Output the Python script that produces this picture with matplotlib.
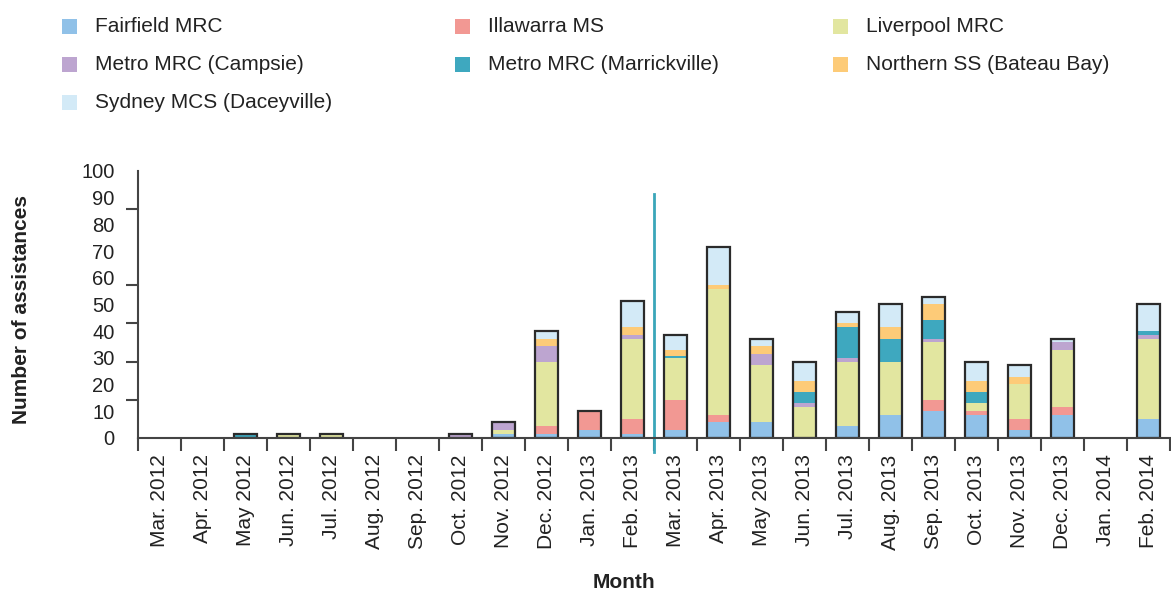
import matplotlib
matplotlib.use("Agg")
import matplotlib.pyplot as plt
from matplotlib.patches import Rectangle
import numpy as np

plt.rcParams["font.family"] = ["Liberation Sans", "DejaVu Sans"]

months = ["Mar. 2012", "Apr. 2012", "May 2012", "Jun. 2012", "Jul. 2012", "Aug. 2012",
          "Sep. 2012", "Oct. 2012", "Nov. 2012", "Dec. 2012", "Jan. 2013", "Feb. 2013",
          "Mar. 2013", "Apr. 2013", "May 2013", "Jun. 2013", "Jul. 2013", "Aug. 2013",
          "Sep. 2013", "Oct. 2013", "Nov. 2013", "Dec. 2013", "Jan. 2014", "Feb. 2014"]

fairfield    = [0, 0, 0, 0, 0, 0, 0, 0, 1, 1, 2, 1, 2, 4, 4, 0, 3, 6, 7, 6, 2, 6, 0, 5]
illawarra    = [0, 0, 0, 0, 0, 0, 0, 0, 0, 2, 5, 4, 8, 2, 0, 0, 0, 0, 3, 1, 3, 2, 0, 0]
liverpool    = [0, 0, 0, 1, 1, 0, 0, 0, 1, 17, 0, 21, 11, 33, 15, 8, 17, 14, 15, 2, 9, 15, 0, 21]
campsie      = [0, 0, 0, 0, 0, 0, 0, 1, 2, 4, 0, 1, 0, 0, 3, 1, 1, 0, 1, 0, 0, 2, 0, 1]
marrickville = [0, 0, 1, 0, 0, 0, 0, 0, 0, 0, 0, 0, 0.5, 0, 0, 3, 8, 6, 5, 3, 0, 0, 0, 1]
northern     = [0, 0, 0, 0, 0, 0, 0, 0, 0, 2, 0, 2, 1.5, 1, 2, 3, 1, 3, 4, 3, 2, 0, 0, 0]
sydney       = [0, 0, 0, 0, 0, 0, 0, 0, 0, 2, 0, 7, 4, 10, 2, 5, 3, 6, 2, 5, 3, 1, 0, 7]

series_names = ["Fairfield MRC", "Illawarra MS", "Liverpool MRC", "Metro MRC (Campsie)",
                "Metro MRC (Marrickville)", "Northern SS (Bateau Bay)", "Sydney MCS (Daceyville)"]
series_colors = ["#90c1e8", "#f29893", "#e2e6a0", "#bda5d0", "#3ea8bf", "#fdcb78", "#d3eaf7"]

# odd axis: ticks on a 0-70 scale, labels 0..100 spread evenly over it
ytick_marks = [0, 10, 20, 30, 40, 60, 70]
ytick_texts = ["0", "10", "20", "30", "40", "50", "60", "70", "80", "90", "100"]

W, H = 1171, 592
fig = plt.figure(figsize=(W / 100, H / 100), dpi=100)
ax = fig.add_axes([138 / W, (H - 437.7) / H, (1170 - 138) / W, (437.7 - 171) / H])

x = np.arange(len(months))
data = [fairfield, illawarra, liverpool, campsie, marrickville, northern, sydney]
bottom = np.zeros(len(months))
for vals, col in zip(data, series_colors):
    vals = np.array(vals, dtype=float)
    ax.bar(x, vals, 0.55, bottom=bottom, color=col, edgecolor="none", zorder=2)
    bottom += vals
# outline around each stack
mask = bottom > 0
ax.bar(x[mask], bottom[mask], 0.55, facecolor="none", edgecolor="#2b2b2b",
       linewidth=1.6, zorder=3)

# divider between Feb and Mar 2013
ax.plot([11.5, 11.5], [64, -3.8], color="#3aa6b9", lw=2, clip_on=False, zorder=4)

ax.set_xlim(-0.5, 23.5)
ax.set_ylim(0, 70)
for s in ["top", "right"]:
    ax.spines[s].set_visible(False)
for s in ["left", "bottom"]:
    ax.spines[s].set_color("#444444")
    ax.spines[s].set_linewidth(1.5)
    ax.spines[s].set_zorder(5)

ax.set_xticks(x)
ax.set_xticklabels(months, rotation=90, fontsize=15, color="#222222")
ax.tick_params(axis="x", which="major", length=0, pad=12)
ax.set_xticks(np.arange(-0.5, 24, 1), minor=True)
ax.tick_params(axis="x", which="minor", length=9, width=1.5, color="#444444", direction="out")

ax.set_yticks(np.linspace(0, 70, len(ytick_texts)))
ax.set_yticklabels(ytick_texts, fontsize=14.5, color="#222222")
ax.tick_params(axis="y", which="major", length=0, pad=17)
ax.set_yticks(ytick_marks, minor=True)
ax.tick_params(axis="y", which="minor", length=9, width=1.5, color="#444444", direction="out")

fig.text(21.5 / W, 1 - 310 / H, "Number of assistances", rotation=90, ha="center", va="center",
         fontsize=15, fontweight="bold", color="#222222")
fig.text(624 / W, 1 - 582 / H, "Month", ha="center", va="center",
         fontsize=15, fontweight="bold", color="#222222")

# legend, three columns
col_x = [62, 455, 833]
row_y = [26, 64, 102]
for i, (name, col) in enumerate(zip(series_names, series_colors)):
    cx, ry = col_x[i % 3], row_y[i // 3]
    fig.add_artist(Rectangle((cx / W, 1 - (ry + 7.5) / H), 15 / W, 15 / H,
                             transform=fig.transFigure, facecolor=col, edgecolor="none"))
    fig.text((cx + 33) / W, 1 - ry / H, name, ha="left", va="center", fontsize=15, color="#222222")

fig.savefig("out.png", dpi=100)
